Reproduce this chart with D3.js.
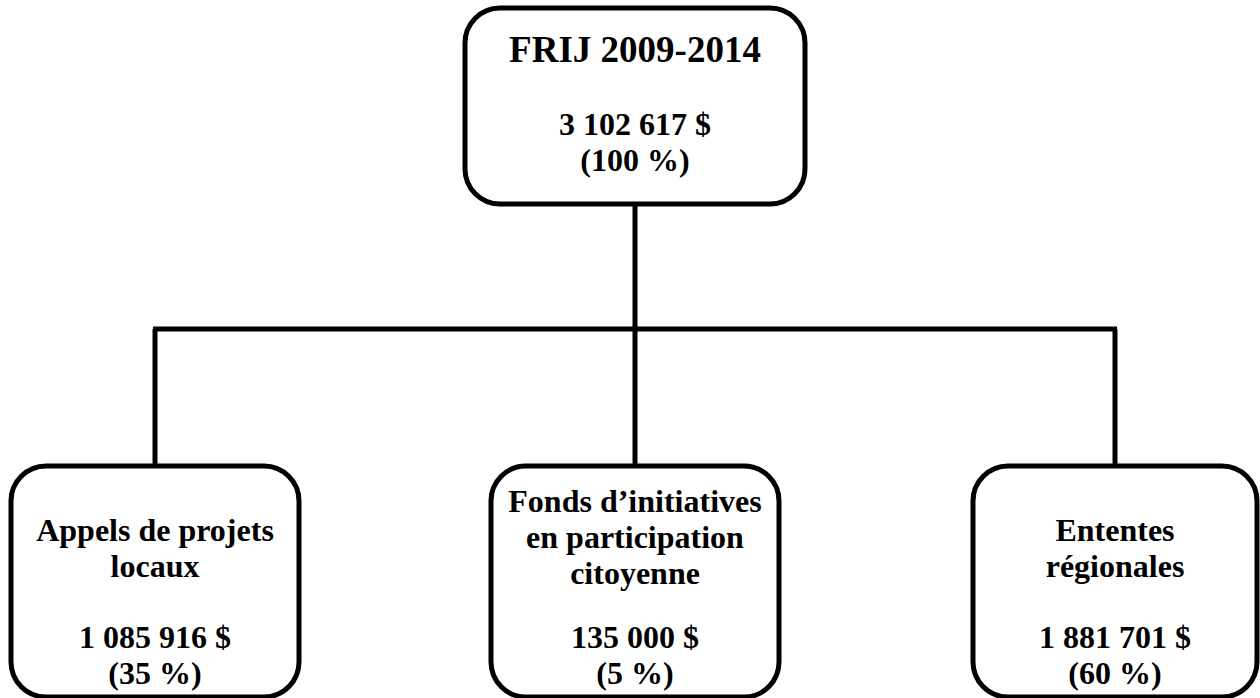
<!DOCTYPE html>
<html>
<head>
<meta charset="utf-8">
<script src="https://cdn.jsdelivr.net/npm/d3@7"></script>
<style>
  body { margin: 0; background: #fff; }
  svg text { font-family: "Liberation Serif", "Times New Roman", serif; font-weight: bold; fill: #000; }
</style>
</head>
<body>
<div id="chart"></div>
<script>
// data
const rootTitle = "FRIJ 2009-2014";
const rootAmount = 3102617;
const rootPercent = 100;

const categories = ["Appels de projets locaux", "Fonds d’initiatives en participation citoyenne", "Ententes régionales"];
const labelLines = [
    ["Appels de projets", "locaux"],
    ["Fonds d’initiatives", "en participation", "citoyenne"],
    ["Ententes", "régionales"]
];
const amounts = [1085916, 135000, 1881701];
const percents = [35, 5, 60];

const width = 1260;
const height = 698;

const fr = d3.formatLocale({ decimal: ",", thousands: " ", grouping: [3], currency: ["", " $"] });
const money = fr.format("$,d");
const pct = d => `(${d} %)`;

const svg = d3.select("#chart")
    .append("svg")
    .attr("width", width)
    .attr("height", height);

// x positions of the children
const x = d3.scalePoint()
    .domain(categories)
    .range([155, 1115]);

const rootX = x(categories[1]);
const busY = 329;

// connectors
svg.append("line")
    .attr("x1", rootX).attr("x2", rootX)
    .attr("y1", 204).attr("y2", busY)
    .attr("stroke", "#000").attr("stroke-width", 5);

svg.append("line")
    .attr("x1", x(categories[0]) - 2).attr("x2", x(categories[2]) + 2)
    .attr("y1", busY).attr("y2", busY)
    .attr("stroke", "#000").attr("stroke-width", 5);

svg.selectAll(".drop")
    .data(categories)
    .join("line")
    .attr("class", "drop")
    .attr("x1", d => x(d)).attr("x2", d => x(d))
    .attr("y1", busY).attr("y2", 466)
    .attr("stroke", "#000").attr("stroke-width", 5);

// root box
svg.append("rect")
    .attr("x", rootX - 170)
    .attr("y", 8)
    .attr("width", 340)
    .attr("height", 196)
    .attr("rx", 35)
    .attr("fill", "#fff")
    .attr("stroke", "#000")
    .attr("stroke-width", 5);

svg.append("text")
    .attr("x", rootX)
    .attr("y", 62)
    .attr("text-anchor", "middle")
    .style("font-size", "37px")
    .text(rootTitle);

// multi-line text helper: one <text>, one <tspan> per line
function multiline(g, cx, y0, lines, step) {
    const t = g.append("text")
        .attr("x", cx)
        .attr("y", y0)
        .attr("text-anchor", "middle")
        .style("font-size", "32px");
    t.selectAll("tspan")
        .data(lines)
        .join("tspan")
        .attr("x", cx)
        .attr("y", (d, j) => y0 + j * step)
        .text(d => d);
}

multiline(svg, rootX, 135, [money(rootAmount), pct(rootPercent)], 36);

// child boxes
const boxW = 288;
const boxes = svg.selectAll(".child")
    .data(categories)
    .join("g")
    .attr("class", "child")
    .attr("transform", d => `translate(${x(d)},0)`);

boxes.append("rect")
    .attr("x", (d, i) => i === 2 ? -142 : -boxW / 2)
    .attr("y", 466)
    .attr("width", (d, i) => i === 2 ? 284 : boxW)
    .attr("height", 231)
    .attr("rx", 35)
    .attr("fill", "#fff")
    .attr("stroke", "#000")
    .attr("stroke-width", 5);

boxes.each(function(d, i) {
    const g = d3.select(this);
    const lines = labelLines[i];
    const top = lines.length === 3 ? 512 : 541;
    multiline(g, 0, top, lines, 36);
    multiline(g, 0, 648, [money(amounts[i]), pct(percents[i])], 36);
});
</script>
</body>
</html>
